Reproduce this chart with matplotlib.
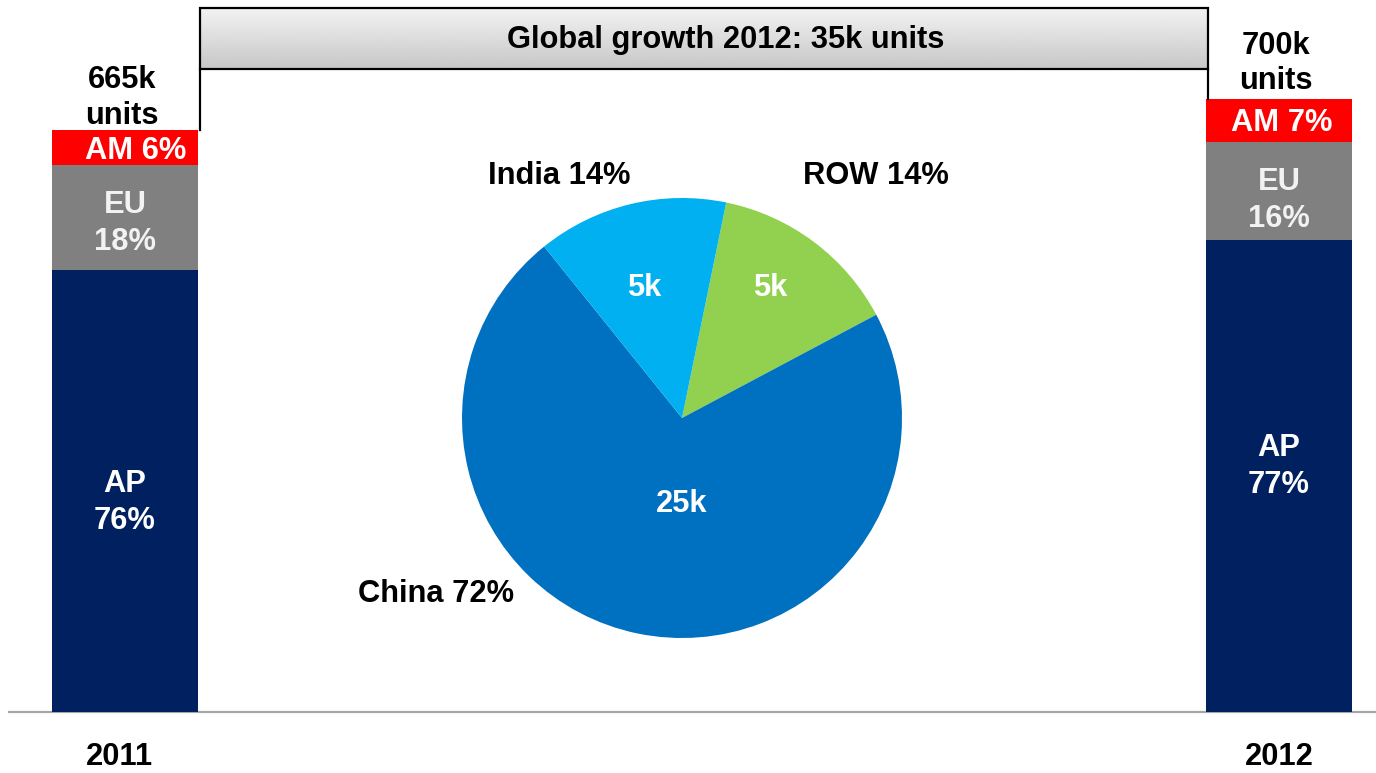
import numpy as np
import matplotlib.pyplot as plt
from matplotlib.patches import Rectangle

plt.rcParams['font.family'] = ['Liberation Sans', 'DejaVu Sans']
plt.rcParams['font.weight'] = 'bold'

# yearly totals (k units) and regional split in %
years = ['2011', '2012']
totals = [665, 700]
regions = ['AP', 'EU', 'AM']
region_share = {'AP': [76, 77], 'EU': [18, 16], 'AM': [6, 7]}
region_colors = {'AP': '#002060', 'EU': '#808080', 'AM': '#ff0000'}
region_text = {'AP': 'white', 'EU': '#f2f2f2', 'AM': 'white'}

# where the 2012 growth came from
growth_names = ['ROW', 'China', 'India']
growth_share = [14, 72, 14]
growth_units = [5, 25, 5]
growth_colors = ['#92d050', '#0070c0', '#00b0f0']

W, H = 1376, 773
FS = 22.2
LS = 1.3
base_px = 712          # baseline, pixels from top
k_per_px = 1 / 0.875   # bar scale

fig = plt.figure(figsize=(W / 100, H / 100), dpi=100)

# bars: x in pixels, y in k units
ax = fig.add_axes([0, 0, 1, 1])
ax.set_xlim(0, W)
ax.set_ylim(-(H - base_px) * k_per_px, base_px * k_per_px)
ax.axis('off')

bar_x = [125, 1279]
bar_w = 146
# nudge for the in-bar labels, in pixels (positive = down)
label_dy = {'AP': [12, -10], 'EU': [6, 9], 'AM': [3, 2]}
label_dx = {'AP': [0, 0], 'EU': [0, 0], 'AM': [11, 3]}
total_gap = [32, 36]   # pixels between bar top and centre of the total label
for i, yr in enumerate(years):
    bottom = 0
    for r in regions:
        h = totals[i] * region_share[r][i] / 100
        ax.bar(bar_x[i], h, width=bar_w, bottom=bottom, color=region_colors[r],
               edgecolor='none', zorder=2)
        mid = bottom + h / 2 - label_dy[r][i] * k_per_px
        if r == 'AM':
            txt = f"{r} {region_share[r][i]}%"
        else:
            txt = f"{r}\n{region_share[r][i]}%"
        ax.text(bar_x[i] + label_dx[r][i], mid, txt, ha='center', va='center',
                color=region_text[r], fontsize=FS, linespacing=LS, zorder=3)
        bottom += h
    ax.text(bar_x[i] - 3, totals[i] + total_gap[i] * k_per_px, f"{totals[i]}k\nunits",
            ha='center', va='center', fontsize=FS, linespacing=1.28 - 0.06 * i, color='black')
    ax.text(bar_x[i] - 6 * (1 - i), -51, yr, ha='center', va='center', fontsize=FS, color='black')

ax.plot([8, W], [0, 0], color='#a6a6a6', lw=1.6, zorder=1, solid_capstyle='butt')

# header box and connectors
hdr_l, hdr_r, hdr_t, hdr_b = 200, 1208, 8, 69
hdr_b_k = (base_px - hdr_b) * k_per_px
ax.plot([hdr_l, hdr_l], [totals[0], hdr_b_k], color='black', lw=1.6, zorder=4)
ax.plot([hdr_r, hdr_r], [totals[1], hdr_b_k], color='black', lw=1.6, zorder=4)

px = fig.add_axes([0, 0, 1, 1], zorder=5)
px.axis('off')
px.patch.set_visible(False)
grad = np.linspace(0.95, 0.78, 64).reshape(-1, 1)
px.imshow(grad, cmap='gray', vmin=0, vmax=1, extent=(hdr_l, hdr_r, hdr_b, hdr_t),
          aspect='auto', interpolation='bilinear')
px.add_patch(Rectangle((hdr_l, hdr_t), hdr_r - hdr_l, hdr_b - hdr_t, fill=False,
                       edgecolor='black', lw=1.6))
px.set_xlim(0, W)
px.set_ylim(H, 0)
growth_total = totals[1] - totals[0]
px.text(726, 40, f"Global growth 2012: {growth_total}k units", ha='center', va='center',
        fontsize=FS, color='black')

# growth pie
cx, cy, R = 682, 418, 220
pax = fig.add_axes([(cx - R) / W, (H - cy - R) / H, 2 * R / W, 2 * R / H])
pax.pie(growth_share, colors=growth_colors, startangle=78.4, counterclock=False,
        radius=1, wedgeprops=dict(linewidth=0))
pax.set_xlim(-1, 1)
pax.set_ylim(-1, 1)
pax.set_aspect('equal')

outer_pos = [(0.88, 1.10), (-1.12, -0.80), (-0.56, 1.10)]
inner_pos = [(0.40, 0.59), (0.0, -0.39), (-0.17, 0.59)]
for name, s, u, op, ip in zip(growth_names, growth_share, growth_units, outer_pos, inner_pos):
    pax.text(op[0], op[1], f"{name} {s}%", ha='center', va='center', fontsize=FS, color='black')
    pax.text(ip[0], ip[1], f"{u}k", ha='center', va='center', fontsize=FS, color='white')

fig.savefig('out.png', dpi=100, facecolor='white')
